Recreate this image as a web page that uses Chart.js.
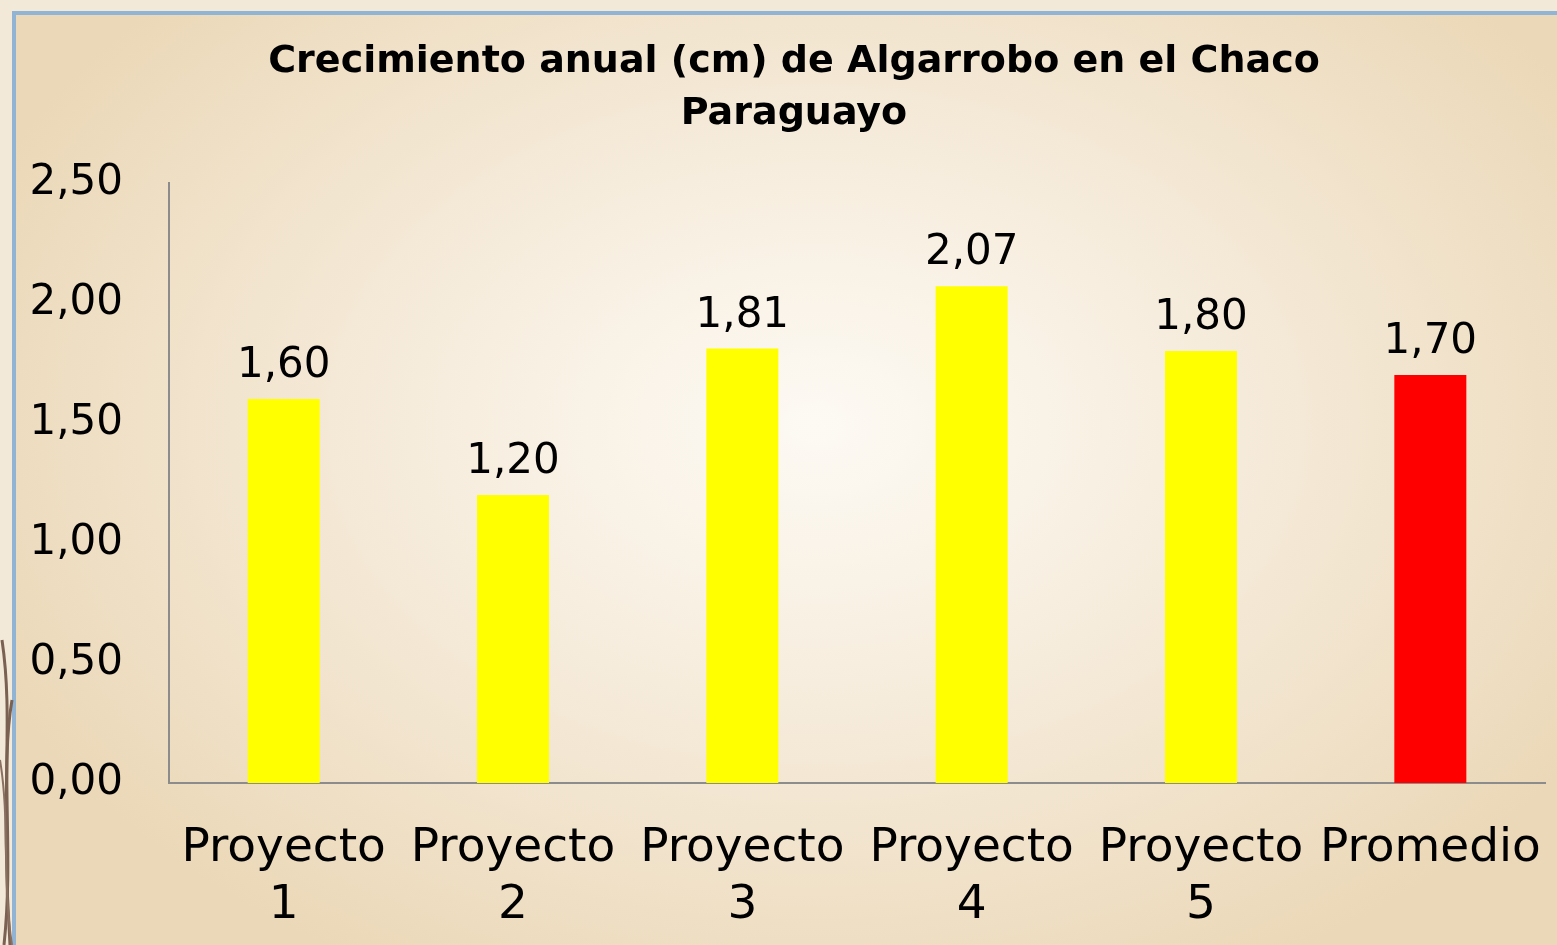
<!DOCTYPE html>
<html>
<head>
<meta charset="utf-8">
<script src="https://cdn.jsdelivr.net/npm/chart.js@4.4.1/dist/chart.umd.min.js"></script>
<style>
  html, body { margin: 0; padding: 0; }
  body {
    width: 1557px; height: 945px; overflow: hidden; position: relative;
    background: #f3e9d8;
  }
  .panel {
    position: absolute; left: 12px; top: 11px; width: 1600px; height: 1000px;
    border-left: 4px solid #92b4d4; border-top: 4px solid #92b4d4;
    background: radial-gradient(ellipse 900px 620px at 800px 410px, #fdfaf4 0%, #f6ecdc 45%, #ebd8b8 100%);
  }
  .deco { position: absolute; left: 0; top: 0; }
  .wrap { position: absolute; left: 0; top: 0; width: 1557px; height: 945px; }
</style>
</head>
<body>
<div class="panel"></div>
<svg class="deco" width="20" height="945">
  <path d="M2 640 C 14 720, 0 790, 10 945" stroke="#7b6152" stroke-width="3" fill="none"/>
  <path d="M12 700 C 0 770, 14 850, 4 945" stroke="#7b6152" stroke-width="3" fill="none"/>
  <path d="M0 760 C 10 820, 2 880, 12 945" stroke="#8a7060" stroke-width="2" fill="none"/>
</svg>
<div class="wrap"><canvas id="chart" width="1557" height="945"></canvas></div>
<script>
var titleLines = ['Crecimiento anual (cm) de Algarrobo en el Chaco', 'Paraguayo'];
var categories = [['Proyecto', '1'], ['Proyecto', '2'], ['Proyecto', '3'], ['Proyecto', '4'], ['Proyecto', '5'], 'Promedio'];
var values = [1.60, 1.20, 1.81, 2.07, 1.80, 1.70];
var barColors = ['#ffff00', '#ffff00', '#ffff00', '#ffff00', '#ffff00', '#ff0000'];
var yTicks = [0, 0.5, 1, 1.5, 2, 2.5];

var FONT = "'DejaVu Sans', sans-serif";

function comma(v) {
    return v.toFixed(2).replace('.', ',');
}

// value labels above each bar + the two-line title
var extras = {
    id: 'extras',
    afterDatasetsDraw: function(chart) {
        var c = chart.ctx;
        var meta = chart.getDatasetMeta(0);
        c.save();
        c.font = '42px ' + FONT;
        c.fillStyle = '#000';
        c.textAlign = 'center';
        c.textBaseline = 'alphabetic';
        meta.data.forEach(function(bar, i) {
            c.fillText(comma(values[i]), bar.x, bar.y - 22);
        });

        c.font = 'bold 38px ' + FONT;
        c.textBaseline = 'middle';
        titleLines.forEach(function(t, i) {
            c.fillText(t, 794, 62 + i * 52);
        });
        c.restore();
    }
};

var ctx = document.getElementById('chart').getContext('2d');
var chart = new Chart(ctx, {
    type: 'bar',
    data: {
        labels: categories,
        datasets: [{
            data: values,
            backgroundColor: barColors,
            borderWidth: 0,
            barPercentage: 1,
            categoryPercentage: 0.314
        }]
    },
    options: {
        responsive: false,
        animation: false,
        layout: { padding: { left: 20, right: 12, top: 183, bottom: 0 } },
        plugins: {
            legend: { display: false },
            tooltip: { enabled: false },
            title: { display: false }
        },
        scales: {
            x: {
                grid: { display: false, drawTicks: false },
                border: { color: '#8c8c8c', width: 2 },
                ticks: {
                    color: '#000',
                    font: { family: FONT, size: 47, lineHeight: 1.22 },
                    padding: 37,
                    maxRotation: 0,
                    autoSkip: false
                },
                afterFit: function(scale) {
                    scale.height = 162;
                    scale.paddingLeft = 0;
                    scale.paddingRight = 0;
                }
            },
            y: {
                min: 0,
                max: 2.5,
                afterBuildTicks: function(scale) {
                    scale.ticks = yTicks.map(function(v) { return { value: v }; });
                },
                grid: { display: false, drawTicks: false },
                border: { color: '#8c8c8c', width: 2 },
                ticks: {
                    color: '#000',
                    font: { family: FONT, size: 42 },
                    padding: 46,
                    callback: function(v) { return comma(v); }
                },
                afterFit: function(scale) {
                    scale.width = 149;
                    scale.paddingTop = 0;
                    scale.paddingBottom = 0;
                }
            }
        }
    },
    plugins: [extras]
});
</script>
</body>
</html>
